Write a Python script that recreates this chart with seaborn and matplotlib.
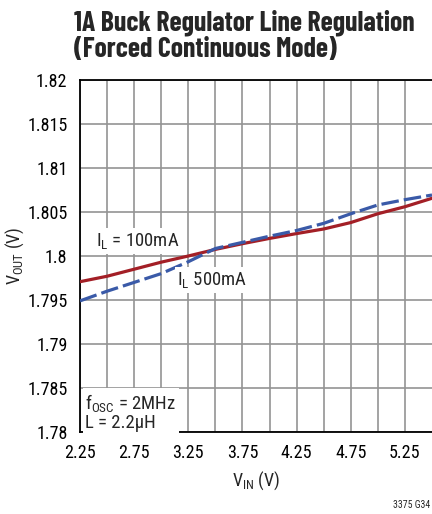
import numpy as np
import pandas as pd
import matplotlib
matplotlib.use("Agg")
import matplotlib.pyplot as plt
import seaborn as sns

# =========================
# DATA
# =========================
vin = [2.25, 2.5, 2.75, 3.0, 3.25, 3.5, 3.75, 4.0, 4.25, 4.5, 4.75, 5.0, 5.25, 5.5]
vout_100ma = [1.79708, 1.79770, 1.79850, 1.79930, 1.80000, 1.80075, 1.80140, 1.80200,
              1.80255, 1.80307, 1.80380, 1.80480, 1.80560, 1.80656]
vout_500ma = [1.79490, 1.79600, 1.79700, 1.79800, 1.79935, 1.80085, 1.80155, 1.80225,
              1.80290, 1.80371, 1.80480, 1.80580, 1.80640, 1.80693]
series_names = ["100mA", "500mA"]
x_ticks = [2.25, 2.75, 3.25, 3.75, 4.25, 4.75, 5.25]
y_ticks = [1.78, 1.785, 1.79, 1.795, 1.8, 1.805, 1.81, 1.815, 1.82]
y_tick_labels = ["1.78", "1.785", "1.79", "1.795", "1.8", "1.805", "1.81", "1.815", "1.82"]

df = pd.DataFrame({
    "vin": vin * 2,
    "vout": vout_100ma + vout_500ma,
    "load": [series_names[0]] * len(vin) + [series_names[1]] * len(vin),
})

# =========================
# STYLE
# =========================
sns.set_style("white")
font = ["Roboto Condensed", "Liberation Sans Narrow", "Archivo Narrow", "DejaVu Sans"]
title_font = ["Barlow Condensed", "Roboto Condensed", "DejaVu Sans"]
plt.rcParams["font.family"] = font
plt.rcParams["mathtext.default"] = "regular"

fig = plt.figure(figsize=(4.32, 5.14), dpi=100)
ax = fig.add_axes([80 / 432, 1 - 432 / 514, 352 / 432, 352 / 514])

sns.lineplot(
    data=df, x="vin", y="vout", hue="load", style="load",
    palette={"100mA": "#a31f26", "500mA": "#3a5aa8"},
    dashes={"100mA": "", "500mA": (5.5, 1.6)},
    linewidth=2.3, legend=False, ax=ax, zorder=3,
)

ax.set_xlim(2.25, 5.5)
ax.set_ylim(1.78, 1.82)
ax.set_xticks(x_ticks)
ax.set_xticks(np.arange(2.5, 5.5, 0.5), minor=True)
ax.set_yticks(y_ticks)
ax.set_yticklabels(y_tick_labels)
ax.grid(True, which="both", color="#949494", linewidth=1.2)
ax.tick_params(which="both", length=0, labelsize=13, pad=9, colors="black")
for s in ["left", "bottom", "top"]:
    ax.spines[s].set_color("black")
    ax.spines[s].set_linewidth(1.3)
ax.spines["right"].set_visible(False)

ax.set_xlabel("V$_{IN}$ (V)", fontsize=13, labelpad=5)
ax.set_ylabel("V$_{OUT}$ (V)", fontsize=13, labelpad=1)

box = dict(facecolor="white", edgecolor="none", pad=2)
ax.text(2.4, 1.80112, "I$_L$ = 100mA", fontsize=13.5, bbox=box, zorder=4)
ax.text(3.15, 1.7967, "I$_L$ 500mA", fontsize=13.5, bbox=box, zorder=4)
ax.text(2.3, 1.7805, "f$_{OSC}$ = 2MHz\nL = 2.2µH", fontsize=13.5, bbox=box,
        linespacing=1.0, zorder=4)

fig.text(74 / 432, 1 - 9 / 514, "1A Buck Regulator Line Regulation\n(Forced Continuous Mode)",
         family=title_font, fontsize=20, fontweight="bold", va="top", ha="left",
         linespacing=1.08)
fig.text(1 - 2 / 432, 1 - 510 / 514, "3375 G34", fontsize=7, ha="right", va="bottom")

fig.savefig("out.png", dpi=100)
